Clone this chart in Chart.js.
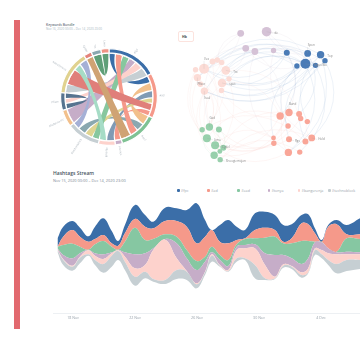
<!DOCTYPE html>
<html>
<head>
<meta charset="utf-8">
<title>Hashtags dashboard</title>
<script src="https://cdn.jsdelivr.net/npm/chart.js@4/dist/chart.umd.min.js"></script>
<style>
    html, body { margin: 0; padding: 0; background: #fff; }
    body { width: 360px; height: 350px; position: relative; overflow: hidden; font-family: "Open Sans", sans-serif; }
    canvas, .abs { position: absolute; }
    #sideBar { left: 14px; top: 20px; width: 6px; height: 309px; background: #e2696f; }
    #bundleTitle { left: 46px; top: 22px; font-size: 3.4px; line-height: 5px; font-weight: 600; color: #6a7480; white-space: nowrap; }
    #bundleDate { left: 46px; top: 27px; font-size: 3px; line-height: 5px; color: #a9b8c3; white-space: nowrap; }
    #hkBox { left: 178px; top: 31px; height: 9px; border: 1px solid #fce3de; border-radius: 2px; font-size: 3.6px; line-height: 9px; font-weight: 700; color: #444; padding-left: 3px; box-sizing: content-box; width: 11px; }
    #streamTitle { left: 53px; top: 170px; font-size: 5px; line-height: 7px; font-weight: 600; color: #46535f; white-space: nowrap; }
    #streamDate { left: 53px; top: 178px; font-size: 3.9px; line-height: 6px; color: #7c8894; white-space: nowrap; }
    .legendItem { top: 188px; font-size: 3.7px; line-height: 6px; color: #98a1aa; white-space: nowrap; }
    .legendItem i { display: inline-block; width: 2.6px; height: 2.6px; border-radius: 1px; margin-right: 1.2px; vertical-align: 0.2px; }
</style>
</head>
<body>
<div id="sideBar" class="abs"></div>
<div id="bundleTitle" class="abs">Keywords Bundle</div>
<div id="bundleDate" class="abs">Nov 16, 2020 00:00 – Dec 14, 2020 23:00</div>
<div id="hkBox" class="abs">Hk</div>
<div id="streamTitle" class="abs">Hashtags Stream</div>
<div id="streamDate" class="abs">Nov 15, 2020 00:00 – Dec 14, 2020 23:00</div>
<div id="streamLegend"></div>

<canvas id="chordChart" width="120" height="120" style="left:49px;top:37px"></canvas>
<canvas id="networkChart" width="190" height="175" style="left:170px;top:0"></canvas>
<canvas id="streamChart" width="307" height="130" style="left:53px;top:195px"></canvas>

<script>
///////////////////////////////////////////////////////////////////////////
//////////////////////////  DATOS: CHORD  /////////////////////////////////
///////////////////////////////////////////////////////////////////////////

const chordNames = ['#fpc', '#ad', '#ead', '#tonya', '#bangerenja', '#technoblock', 'Moderna Inc', 'Pfizer', 'AstraZeneca', 'Cydel', 'Trx', 'Lima'];
const chordColors = ['#3b6ea8', '#f5998a', '#7fc294', '#c6adc8', '#fdd2cc', '#c6cfd3', '#f2c08c', '#56738f', '#e0d28f', '#e5837b', '#8aa8b0', '#ef9385'];

// slots de cada grupo en sentido horario: [id de cinta, tamaño]
const chordSlots = [
    [['blueArc', 8], ['salmonBand', 9], ['greenBand', 9], ['purpleBand', 9], ['pinkBand', 10], ['greyBand', 12]],
    [['blueArc', 9], ['orangeBand', 10], ['steelBand', 9], ['yellowBand', 7], ['redBand', 9], ['shortBand', 7]],
    [['orangeBand', 12], ['tealBand', 10], ['salmonBand', 10], ['tanBand', 13]],
    [['shortBand', 8]],
    [['steelBand', 10], ['mintBand', 9]],
    [['greenBand', 9], ['yellowBand', 10], ['tealBand', 10], ['periBand', 9]],
    [['purpleBand', 19]],
    [['slateU', 7], ['pinkBand', 6], ['slateU', 7]],
    [['greyBand', 11], ['redBand', 20], ['mintBand', 9], ['periBand', 10]],
    [['tanBand', 9]],
    [['darkGreenU', 11]],
    [['darkGreenU', 9]]
];

const chordRibbons = ['shortBand', 'darkGreenU', 'blueArc', 'greyBand', 'purpleBand', 'pinkBand', 'slateU', 'orangeBand', 'steelBand', 'tealBand', 'yellowBand', 'greenBand', 'periBand', 'salmonBand', 'redBand', 'mintBand', 'tanBand'];
const chordRibbonColors = ['#f5998a', '#5f9f78', '#3b6ea8', '#c6cfd3', '#c6adc8', '#fdd2cc', '#56738f', '#f2c08c', '#7f9ab4', '#8aa8b0', '#dfd492', '#87c79e', '#a5b0d6', '#f5998a', '#e07f7a', '#a6dcc6', '#cfa374'];

///////////////////////////////////////////////////////////////////////////
//////////////////////////  DATOS: RED  ///////////////////////////////////
///////////////////////////////////////////////////////////////////////////

// [x, y, radio]
const purpleNodes = [[290, 85, 4.8], [208, 90, 3.4], [224, 138, 3.4], [253, 148, 3.4], [312, 145, 2.7]];
const blueNodes = [[354, 152, 3], [420, 154, 3.4], [461, 158, 3.7], [475, 177, 2.7], [413, 187, 5], [445, 192, 2.7], [386, 194, 2.7]];
const pinkNodes = [[92, 203, 5], [119, 180, 3], [134, 175, 2.7], [148, 183, 2.7], [65, 206, 2.7], [161, 208, 4.3], [71, 231, 3.7], [171, 235, 2.7], [149, 248, 4.3], [80, 252, 2.7], [93, 274, 3.7], [147, 272, 2.7]];
const salmonNodes = [[333, 353, 3.7], [361, 342, 3.7], [393, 347, 3], [398, 361, 2.7], [419, 371, 2.7], [358, 385, 2.7], [433, 423, 3.4], [413, 434, 3], [361, 427, 3], [312, 423, 2.4], [313, 440, 2.7], [359, 469, 3.7], [395, 468, 2.7]];
const greenNodes = [[109, 388, 3.7], [86, 397, 2.7], [139, 396, 3], [101, 424, 4], [127, 446, 4], [153, 454, 3], [142, 466, 2.4], [124, 478, 3.7], [143, 492, 2.7]];

const nodeGroups = [purpleNodes, blueNodes, pinkNodes, salmonNodes, greenNodes];
const nodeColors = ['#d5c2d6', '#4a7bb6', '#fcdcd6', '#f9a698', '#98d0ac'];
const edgeColors = ['rgba(190,170,195,.2)', 'rgba(90,135,190,.22)', 'rgba(245,190,180,.22)', 'rgba(245,160,145,.18)', 'rgba(130,195,155,.18)'];

// aristas: índices sobre la lista de nodos unida
const networkEdges = [
    [0, 9], [0, 6], [1, 16], [1, 14], [2, 17], [2, 9], [3, 10], [3, 12], [4, 9], [4, 7],
    [5, 12], [5, 17], [5, 20], [6, 22], [6, 19], [7, 12], [7, 20], [8, 18], [8, 22], [9, 20],
    [9, 23], [9, 17], [9, 12], [9, 19], [10, 22], [10, 14], [11, 23], [11, 18], [6, 26], [7, 28],
    [8, 30], [9, 33], [9, 35], [10, 32], [5, 24], [11, 29], [12, 37], [12, 40], [14, 38], [16, 43],
    [18, 41], [19, 40], [21, 37], [22, 44], [20, 24], [23, 25], [17, 27], [13, 33], [18, 37], [16, 40],
    [24, 41], [24, 40], [25, 44], [26, 43], [29, 42], [30, 45], [32, 39], [33, 41], [34, 37], [36, 45],
    [35, 40], [31, 38], [27, 41], [28, 30], [24, 33], [25, 35], [37, 43], [38, 45], [39, 42], [4, 30],
    [0, 25], [1, 37], [2, 24], [3, 35], [7, 35], [8, 31], [10, 36], [15, 42], [14, 44], [22, 43]
];

const networkLabelNodes = [0, 6, 7, 9, 12, 17, 18, 20, 22, 37, 25, 40, 41, 32, 30, 45];
const networkLabelTexts = ['de', 'Spon', 'Top', 'Tagus Bio', 'Vex', 'Trx', 'Pfizer', 'spot', 'Itaal', 'Gad', 'Band', 'Lima', 'Cydel', 'Rgs', 'Hold', 'Shoogiemojan'];
const networkLabelSides = ['r', 't', 'r', 'r', 't', 'r', 'b', 'r', 'b', 't', 't', 'r', 'r', 'r', 'r', 'r'];

///////////////////////////////////////////////////////////////////////////
//////////////////////////  DATOS: STREAM  ////////////////////////////////
///////////////////////////////////////////////////////////////////////////

const sampleDays = [17, 17.37, 17.96, 18.45, 18.99, 19.42, 19.96, 20.5, 20.92, 21.35, 22, 22.65, 23.18, 23.94, 24.69, 25.34, 25.98, 26.52, 26.95, 27.48, 28.02, 28.56, 29.1, 29.74, 30.39, 31.03, 31.57, 32.11, 32.75, 33.18, 33.61, 34.05, 34.47, 35.01, 35.66, 36.52];

const baseline = [182, 144, 127, 149, 172, 144, 121, 139, 159, 129, 82, 104, 94, 87, 102, 99, 74, 114, 154, 139, 124, 154, 159, 104, 99, 102, 136, 132, 106, 119, 174, 164, 144, 119, 126, 132];
const technoblock = [7, 15, 12, 17, 4, 15, 26, 33, 27, 25, 27, 20, 8, 12, 27, 25, 12, 8, 18, 3, 2, 10, 5, 40, 5, 2, 6, 7, 8, 3, 15, 12, 15, 28, 33, 27];
const bangerenja = [3, 2, 3, 3, 12, 13, 15, 7, 2, 15, 25, 20, 87, 121, 35, 2, 3, 2, 4, 2, 3, 25, 30, 50, 40, 5, 4, 2, 8, 12, 5, 13, 20, 29, 17, 17];
const tonya = [2, 13, 22, 10, 1, 7, 14, 3, 1, 13, 42, 35, 5, 2, 45, 38, 40, 30, 6, 15, 12, 10, 10, 12, 35, 65, 28, 23, 25, 30, 18, 23, 15, 6, 8, 6];
const ead = [5, 30, 44, 20, 1, 27, 40, 17, 1, 32, 80, 40, 28, 14, 20, 25, 27, 15, 17, 15, 18, 7, 18, 18, 47, 55, 35, 45, 69, 52, 2, 2, 0, 2, 40, 40];
const ad = [0, 25, 41, 30, 24, 16, 18, 10, 12, 25, 26, 40, 32, 40, 47, 70, 53, 60, 50, 40, 50, 13, 2, 25, 30, 20, 5, 15, 53, 50, 25, 0, 65, 82, 12, 14];
const fpc = [25, 30, 27, 27, 16, 37, 50, 37, 14, 25, 42, 35, 20, 40, 38, 50, 120, 50, 0, 50, 70, 40, 25, 50, 48, 45, 50, 42, 25, 30, 15, 5, 5, 13, 28, 48];

const streamNames = ['#fpc', '#ad', '#ead', '#tonya', '#bangerenja', '#technoblock'];
const streamColors = ['#3b6ea8', '#f5998a', '#86c7a2', '#c6adc8', '#fdd2cc', '#c6cfd3'];
const streamSeries = [fpc, ad, ead, tonya, bangerenja, technoblock];

const tickDays = [18, 22, 26, 30, 34];
const tickLabels = ['18 Nov', '22 Nov', '26 Nov', '30 Nov', '4 Dec'];

Chart.defaults.animation = false;
Chart.defaults.font.family = '"Open Sans", sans-serif';

///////////////////////////////////////////////////////////////////////////
//////////////////////////  CHORD  ////////////////////////////////////////
///////////////////////////////////////////////////////////////////////////

const chordGroupSizes = chordSlots.map(function (slots) {
    return slots.reduce(function (sum, slot) { return sum + slot[1]; }, 0);
});

// une los arcos del doughnut con las cintas
const chordRibbonPlugin = {
    id: 'chordRibbons',
    beforeDatasetsDraw: function (chart) {
        const ctx = chart.ctx;
        const arcs = chart.getDatasetMeta(0).data;
        const cx = arcs[0].x, cy = arcs[0].y;
        const r = arcs[0].innerRadius - 0.8;
        const ends = {};

        chordSlots.forEach(function (slots, g) {
            const perUnit = (arcs[g].endAngle - arcs[g].startAngle) / chordGroupSizes[g];
            let a = arcs[g].startAngle;
            slots.forEach(function (slot) {
                if (!ends[slot[0]]) ends[slot[0]] = [];
                ends[slot[0]].push([a + 0.015, a + slot[1] * perUnit - 0.015]);
                a += slot[1] * perUnit;
            });
        });

        // borde de la cinta: cuanto más opuestos los extremos, más lejos del centro el control
        function edge(from, to) {
            const sep = Math.abs(Math.atan2(Math.sin(to - from), Math.cos(to - from)));
            const k = (0.3 + 0.5 * sep / Math.PI) * r;
            ctx.bezierCurveTo(cx + k * Math.cos(from), cy + k * Math.sin(from), cx + k * Math.cos(to), cy + k * Math.sin(to), cx + r * Math.cos(to), cy + r * Math.sin(to));
        }

        chordRibbons.forEach(function (id, i) {
            const p = ends[id][0], q = ends[id][1];
            ctx.beginPath();
            ctx.arc(cx, cy, r, p[0], p[1]);
            edge(p[1], q[0]);
            ctx.arc(cx, cy, r, q[0], q[1]);
            edge(q[1], p[0]);
            ctx.closePath();
            ctx.fillStyle = chordRibbonColors[i];
            ctx.fill();
        });
    },
    afterDatasetsDraw: function (chart) {
        const ctx = chart.ctx;
        const arcs = chart.getDatasetMeta(0).data;
        ctx.save();
        ctx.font = '2.8px "Open Sans", sans-serif';
        ctx.fillStyle = '#a9b2ba';
        ctx.textBaseline = 'middle';
        arcs.forEach(function (arc, g) {
            const mid = (arc.startAngle + arc.endAngle) / 2;
            const onLeft = Math.cos(mid) < 0;
            ctx.save();
            ctx.translate(arc.x + (arc.outerRadius + 2) * Math.cos(mid), arc.y + (arc.outerRadius + 2) * Math.sin(mid));
            ctx.rotate(onLeft ? mid + Math.PI : mid);
            ctx.textAlign = onLeft ? 'right' : 'left';
            ctx.fillText(chordNames[g], 0, 0);
            ctx.restore();
        });
        ctx.restore();
    }
};

new Chart(document.getElementById('chordChart'), {
    type: 'doughnut',
    data: {
        labels: chordNames,
        datasets: [{
            data: chordGroupSizes,
            backgroundColor: chordColors,
            borderColor: '#fff',
            borderWidth: 1.2
        }]
    },
    options: {
        responsive: false,
        cutout: '91%',
        layout: { padding: 11 },
        plugins: { legend: { display: false }, tooltip: { enabled: false } }
    },
    plugins: [chordRibbonPlugin]
});

///////////////////////////////////////////////////////////////////////////
//////////////////////////  RED  //////////////////////////////////////////
///////////////////////////////////////////////////////////////////////////

const allNodes = nodeGroups.flat();
const nodeGroupOf = [];
nodeGroups.forEach(function (group, g) {
    group.forEach(function () { nodeGroupOf.push(g); });
});

const networkPlugin = {
    id: 'networkEdges',
    beforeDatasetsDraw: function (chart) {
        const ctx = chart.ctx;
        const sx = chart.scales.x, sy = chart.scales.y;
        ctx.save();
        ctx.lineWidth = 0.5;
        networkEdges.forEach(function (edge, i) {
            const a = allNodes[edge[0]], b = allNodes[edge[1]];
            const x1 = sx.getPixelForValue(a[0]), y1 = sy.getPixelForValue(a[1]);
            const x2 = sx.getPixelForValue(b[0]), y2 = sy.getPixelForValue(b[1]);
            const bend = i % 2 ? 0.38 : -0.38;
            ctx.beginPath();
            ctx.moveTo(x1, y1);
            ctx.quadraticCurveTo((x1 + x2) / 2 - (y2 - y1) * bend, (y1 + y2) / 2 + (x2 - x1) * bend, x2, y2);
            ctx.strokeStyle = edgeColors[nodeGroupOf[edge[0]]];
            ctx.stroke();
        });
        ctx.restore();
    },
    afterDatasetsDraw: function (chart) {
        const ctx = chart.ctx;
        const sx = chart.scales.x, sy = chart.scales.y;
        ctx.save();
        ctx.font = '3px "Open Sans", sans-serif';
        ctx.textBaseline = 'middle';
        ctx.textAlign = 'left';
        networkLabelNodes.forEach(function (n, i) {
            const node = allNodes[n];
            const x = sx.getPixelForValue(node[0]), y = sy.getPixelForValue(node[1]);
            const side = networkLabelSides[i];
            ctx.strokeStyle = 'rgba(150,150,150,.4)';
            ctx.lineWidth = 0.4;
            ctx.beginPath();
            ctx.moveTo(x, y);
            if (side === 'r') ctx.lineTo(x + node[2] + 2, y + 1.5);
            if (side === 't') ctx.lineTo(x, y - node[2] - 3);
            if (side === 'b') ctx.lineTo(x, y + node[2] + 2);
            ctx.stroke();
            ctx.fillStyle = '#8a8a8a';
            if (side === 'r') ctx.fillText(networkLabelTexts[i], x + node[2] + 3, y + 1.5);
            if (side === 't') ctx.fillText(networkLabelTexts[i], x, y - node[2] - 5);
            if (side === 'b') ctx.fillText(networkLabelTexts[i], x, y + node[2] + 3);
        });
        ctx.restore();
    }
};

new Chart(document.getElementById('networkChart'), {
    type: 'bubble',
    data: {
        datasets: nodeGroups.map(function (group, g) {
            return {
                data: group.map(function (n) { return { x: n[0], y: n[1], r: n[2] }; }),
                backgroundColor: nodeColors[g],
                borderWidth: 0
            };
        })
    },
    options: {
        responsive: false,
        layout: { padding: 0 },
        scales: {
            x: { type: 'linear', min: 0, max: 570, display: false },
            y: { type: 'linear', min: 0, max: 525, reverse: true, display: false }
        },
        plugins: { legend: { display: false }, tooltip: { enabled: false } }
    },
    plugins: [networkPlugin]
});

///////////////////////////////////////////////////////////////////////////
//////////////////////////  STREAM  ///////////////////////////////////////
///////////////////////////////////////////////////////////////////////////

function toPoints(values) {
    return values.map(function (v, i) { return { x: sampleDays[i], y: v }; });
}

// apilado de abajo hacia arriba, la base es invisible
const streamDatasets = [{
    data: toPoints(baseline),
    borderWidth: 0,
    pointRadius: 0,
    fill: false,
    tension: 0.4
}];
for (let s = streamSeries.length - 1; s >= 0; s--) {
    streamDatasets.push({
        label: streamNames[s],
        data: toPoints(streamSeries[s]),
        backgroundColor: streamColors[s],
        borderWidth: 0,
        pointRadius: 0,
        fill: '-1',
        tension: 0.4
    });
}

new Chart(document.getElementById('streamChart'), {
    type: 'line',
    data: { datasets: streamDatasets },
    options: {
        responsive: false,
        layout: { padding: 0 },
        scales: {
            x: {
                type: 'linear',
                min: 16.71,
                max: 36.52,
                afterBuildTicks: function (scale) {
                    scale.ticks = tickDays.map(function (d) { return { value: d }; });
                },
                afterFit: function (scale) { scale.height = 12; },
                grid: { drawOnChartArea: false, drawTicks: false },
                border: { color: '#edf0f3' },
                ticks: {
                    autoSkip: false,
                    maxRotation: 0,
                    padding: 2.5,
                    color: '#98a2ab',
                    font: { size: 3.6 },
                    callback: function (v) { return tickLabels[tickDays.indexOf(v)]; }
                }
            },
            y: { stacked: true, min: 0, max: 354, display: false }
        },
        plugins: { legend: { display: false }, tooltip: { enabled: false } }
    }
});

///////////////////////////////////////////////////////////////////////////
//////////////////////////  LEYENDA  //////////////////////////////////////
///////////////////////////////////////////////////////////////////////////

const legendBox = document.getElementById('streamLegend');
streamNames.forEach(function (name, i) {
    const item = document.createElement('div');
    item.className = 'abs legendItem';
    item.style.left = (177 + i * 30.2) + 'px';
    item.innerHTML = '<i style="background:' + streamColors[i] + '"></i>' + name;
    legendBox.appendChild(item);
});
</script>
</body>
</html>
